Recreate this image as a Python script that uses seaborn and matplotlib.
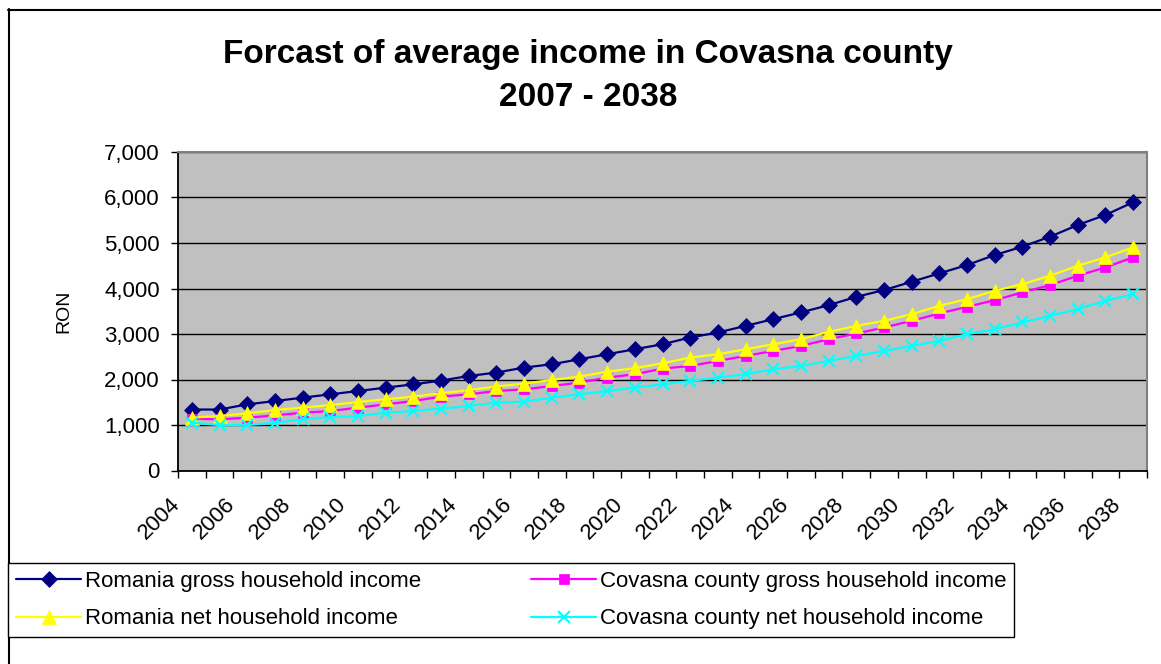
import matplotlib
matplotlib.use("Agg")
import matplotlib.pyplot as plt
import matplotlib.transforms as mtransforms
from matplotlib.lines import Line2D
from matplotlib.ticker import FixedLocator, NullFormatter, FuncFormatter
import seaborn as sns

# ---- data ----
years = list(range(2004, 2039))

ro_gross = [1340, 1340, 1454, 1526, 1601, 1674, 1747, 1821, 1894, 1976, 2077, 2152,
            2262, 2335, 2445, 2555, 2665, 2775, 2923, 3033, 3178, 3326, 3474, 3634,
            3817, 3965, 4148, 4333, 4515, 4736, 4919, 5139, 5396, 5617, 5896]
cov_gross = [1139, 1123, 1161, 1211, 1271, 1306, 1381, 1454, 1526, 1623, 1674, 1747,
             1784, 1857, 1932, 2042, 2115, 2240, 2297, 2408, 2518, 2628, 2738, 2885,
             3011, 3143, 3289, 3452, 3597, 3744, 3914, 4075, 4280, 4465, 4685]
ro_net = [1161, 1196, 1256, 1328, 1381, 1438, 1504, 1564, 1623, 1696, 1769, 1844,
          1910, 1989, 2064, 2174, 2247, 2357, 2482, 2555, 2665, 2775, 2885, 3046,
          3178, 3289, 3436, 3619, 3767, 3950, 4097, 4280, 4500, 4685, 4905]
cov_net = [1051, 998, 998, 1051, 1123, 1174, 1196, 1271, 1306, 1359, 1416, 1491,
           1513, 1601, 1674, 1747, 1821, 1894, 1967, 2042, 2115, 2225, 2297, 2408,
           2518, 2628, 2738, 2848, 2996, 3106, 3253, 3399, 3546, 3729, 3877]

labels = ["Romania gross household income", "Covasna county gross household income",
          "Romania net household income", "Covasna county net household income"]
y_ticks = [0, 1000, 2000, 3000, 4000, 5000, 6000, 7000]

sns.set_style("ticks")
plt.rcParams['font.family'] = ['Liberation Sans', 'DejaVu Sans']
plt.rcParams.update({'text.color': 'black', 'axes.labelcolor': 'black',
                     'xtick.color': 'black', 'ytick.color': 'black'})

W, H = 1161, 664
fig = plt.figure(figsize=(W / 100, H / 100), dpi=100)
ax = fig.add_axes([178 / W, 1 - 470.5 / H, (1147 - 178) / W, (470.5 - 152) / H])
ax.set_facecolor('#C0C0C0')

styles = [
    (ro_gross, '#000080', 'D', 8),
    (cov_gross, '#FF00FF', 's', 7.5),
    (ro_net, '#FFFF00', '^', 10),
    (cov_net, '#00FFFF', 'x', 9),
]
for (vals, col, mk, ms), name in zip(styles, labels):
    sns.lineplot(x=years, y=vals, ax=ax, color=col, marker=mk, markersize=ms,
                 markeredgecolor=col, markeredgewidth=1.5 if mk == 'x' else 0.5,
                 linewidth=1.6, label=name)

handles, labs = ax.get_legend_handles_labels()
ax.get_legend().remove()

# axes, ticks, grid
ax.set_xlim(years[0] - 0.5, years[-1] + 0.5)
ax.set_ylim(0, 7000)
ax.set_xlabel("")
ax.set_ylabel("")
ax.xaxis.set_major_locator(FixedLocator([y - 0.5 for y in years] + [years[-1] + 0.5]))
ax.xaxis.set_major_formatter(NullFormatter())
ax.set_xticks(years[::2], minor=True)
ax.set_xticklabels([str(y) for y in years[::2]], minor=True, rotation=45,
                   ha='right', va='center', rotation_mode='anchor', fontsize=16,
                   color='black')
ax.tick_params(axis='x', which='minor', length=0, pad=22)
ax.tick_params(axis='x', which='major', length=5, width=1, color='black',
               direction='out', bottom=True)
shift = mtransforms.ScaledTranslation(-15 / 100, 0, fig.dpi_scale_trans)
for t in ax.get_xticklabels(minor=True):
    t.set_transform(t.get_transform() + shift)

ax.set_yticks(y_ticks)
ax.yaxis.set_major_formatter(FuncFormatter(lambda v, p: f"{int(v):,}"))
ax.tick_params(axis='y', length=5, width=1, color='black', direction='out',
               pad=8, labelsize=16, labelcolor='black', left=True)
ax.yaxis.grid(True, color='black', linewidth=1)
ax.xaxis.grid(False)
ax.set_axisbelow(True)

for side in ['left', 'bottom']:
    ax.spines[side].set_color('black')
    ax.spines[side].set_linewidth(1.3)
for side in ['top', 'right']:
    ax.spines[side].set_visible(True)
    ax.spines[side].set_color('#808080')
    ax.spines[side].set_linewidth(1.5)

# titles and axis label
fig.text(588 / W, 1 - 63 / H, "Forcast of average income in Covasna county",
         fontsize=24, fontweight='bold', ha='center', va='baseline', color='black')
fig.text(588 / W, 1 - 106 / H, "2007 - 2038",
         fontsize=24, fontweight='bold', ha='center', va='baseline', color='black')
fig.text(64 / W, 1 - 311 / H, "RON", fontsize=14, rotation=90,
         ha='center', va='center', color='black')

# legend (Excel order: row-wise)
order = [0, 2, 1, 3]
leg = fig.legend([handles[i] for i in order], [labs[i] for i in order], ncol=2,
                 loc='upper left', bbox_to_anchor=(8 / W, 1 - 636 / H, 1006 / W, 73 / H),
                 mode='expand', borderaxespad=0, frameon=True, fancybox=False,
                 edgecolor='black', framealpha=1, fontsize=16, handlelength=2.95,
                 handletextpad=0.15, labelspacing=0.75, borderpad=0.35,
                 labelcolor='black')
leg.get_frame().set_linewidth(1)

# outer chart frame (only left and top visible in the crop)
fig.add_artist(Line2D([8.5 / W, 8.5 / W], [0, 1 - 9 / H], color='black', lw=1.5,
                      transform=fig.transFigure))
fig.add_artist(Line2D([8 / W, 1], [1 - 9.5 / H, 1 - 9.5 / H], color='black', lw=1.5,
                      transform=fig.transFigure))

fig.savefig("out.png", dpi=100, facecolor='white')
